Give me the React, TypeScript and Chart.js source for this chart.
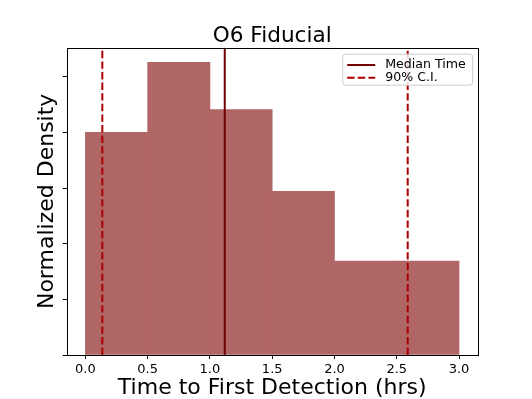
import { useEffect, useRef } from 'react';
import { Chart, registerables } from 'chart.js';
Chart.register(...registerables);

const titleText = 'O6 Fiducial';
const xLabel = 'Time to First Detection (hrs)';
const yLabel = 'Normalized Density';
const binEdges = [0, 0.5, 1.0, 1.5, 2.0, 2.5, 3.0];
const densities = [0.400, 0.526, 0.441, 0.294, 0.169, 0.169];
const medianTime = 1.119;
const ciLow = 0.136;
const ciHigh = 2.588;
const xTicks = [0, 0.5, 1.0, 1.5, 2.0, 2.5, 3.0];
const yTicks = [0, 0.1, 0.2, 0.3, 0.4, 0.5];
const legendLabels = ['Median Time', '90% C.I.'];

const FONT = '"DejaVu Sans", sans-serif';
const BAR = 'rgb(177,102,102)';
const MEDIAN = '#700000';
const CI = '#a80000';

export default function App() {
  const ref = useRef<HTMLCanvasElement>(null);
  useEffect(() => {
    const yMax = Math.max(...densities) * 1.05;
    const span = binEdges[binEdges.length - 1] - binEdges[0];
    const xMin = binEdges[0] - 0.05 * span;
    const xMax = binEdges[binEdges.length - 1] + 0.05 * span;
    const barData = densities.map((d, i) => ({ x: (binEdges[i] + binEdges[i + 1]) / 2, y: d }));
    const vline = (x: number) => [{ x, y: 0 }, { x, y: yMax }];

    const deco = {
      id: 'deco',
      afterDraw(chart: any) {
        const ctx = chart.ctx;
        const a = chart.chartArea;
        ctx.save();
        ctx.strokeStyle = '#000';
        ctx.lineWidth = 1;
        ctx.strokeRect(Math.round(a.left) + 0.5, Math.round(a.top) + 0.5, Math.round(a.right - a.left), Math.round(a.bottom - a.top));
        const cx = (a.left + a.right) / 2;
        ctx.fillStyle = '#000';
        ctx.textAlign = 'center';
        ctx.textBaseline = 'alphabetic';
        ctx.font = `21.6px ${FONT}`;
        ctx.fillText(titleText, cx, 41.7);
        ctx.font = `22px ${FONT}`;
        ctx.fillText(xLabel, cx, 393.5);
        ctx.save();
        ctx.translate(52.5, (a.top + a.bottom) / 2);
        ctx.rotate(-Math.PI / 2);
        ctx.fillText(yLabel, 0, 0);
        ctx.restore();
        const bw = 130, bh = 31;
        const bx = a.right - 5 - bw, by = a.top + 6.5;
        ctx.beginPath();
        ctx.roundRect(bx, by, bw, bh, 3);
        ctx.fillStyle = 'rgba(255,255,255,0.8)';
        ctx.fill();
        ctx.strokeStyle = '#cccccc';
        ctx.lineWidth = 1;
        ctx.stroke();
        const rows = [
          { label: legendLabels[0], color: MEDIAN, dash: [] as number[] },
          { label: legendLabels[1], color: CI, dash: [7.4, 3.2] },
        ];
        rows.forEach((r, i) => {
          const y = by + 10.8 + i * 12.8;
          ctx.beginPath();
          ctx.setLineDash(r.dash);
          ctx.strokeStyle = r.color;
          ctx.lineWidth = 2;
          ctx.moveTo(bx + 4.5, y);
          ctx.lineTo(bx + 32.5, y);
          ctx.stroke();
          ctx.setLineDash([]);
          ctx.fillStyle = '#000';
          ctx.textAlign = 'left';
          ctx.textBaseline = 'middle';
          ctx.font = `12.6px ${FONT}`;
          ctx.fillText(r.label, bx + 42.5, y);
        });
        ctx.restore();
      },
    };

    const chart = new Chart(ref.current!, {
      type: 'bar',
      data: {
        datasets: [
          {
            type: 'bar',
            data: barData,
            backgroundColor: BAR,
            borderWidth: 0,
            barPercentage: 1,
            categoryPercentage: 1,
            order: 2,
          } as any,
          {
            type: 'line',
            data: vline(medianTime),
            borderColor: MEDIAN,
            borderWidth: 2,
            pointRadius: 0,
            order: 1,
          } as any,
          {
            type: 'line',
            data: vline(ciLow),
            borderColor: CI,
            borderWidth: 2,
            borderDash: [7.4, 3.2],
            pointRadius: 0,
            order: 1,
          } as any,
          {
            type: 'line',
            data: vline(ciHigh),
            borderColor: CI,
            borderWidth: 2,
            borderDash: [7.4, 3.2],
            pointRadius: 0,
            order: 1,
          } as any,
        ],
      },
      options: {
        animation: false,
        responsive: true,
        maintainAspectRatio: false,
        layout: { padding: { left: 0, right: 54.3, top: 47.7, bottom: 0 } },
        plugins: { legend: { display: false }, title: { display: false }, tooltip: { enabled: false } },
        scales: {
          x: {
            type: 'linear',
            min: xMin,
            max: xMax,
            offset: false,
            afterFit: (s: any) => { s.height = 44; },
            afterBuildTicks: (s: any) => { s.ticks = xTicks.map((v) => ({ value: v })); },
            grid: { offset: false, drawOnChartArea: false, drawTicks: true, tickLength: 4, color: '#000', lineWidth: 1 },
            border: { display: false },
            ticks: {
              color: '#000',
              font: { family: FONT, size: 13 },
              padding: 3,
              maxRotation: 0,
              autoSkip: false,
              callback: (v: any) => Number(v).toFixed(1),
            },
          },
          y: {
            type: 'linear',
            min: 0,
            max: yMax,
            afterFit: (s: any) => { s.width = 66.7; },
            afterBuildTicks: (s: any) => { s.ticks = yTicks.map((v) => ({ value: v })); },
            grid: { offset: false, drawOnChartArea: false, drawTicks: true, tickLength: 4, color: '#000', lineWidth: 1 },
            border: { display: false },
            ticks: { display: true, callback: () => '', font: { family: FONT, size: 13 } },
          },
        },
      },
      plugins: [deco],
    } as any);
    return () => chart.destroy();
  }, []);
  return (
    <div style={{ position: 'fixed', left: 0, top: 0, width: 532, height: 399, background: '#fff' }}>
      <canvas ref={ref} />
    </div>
  );
}
